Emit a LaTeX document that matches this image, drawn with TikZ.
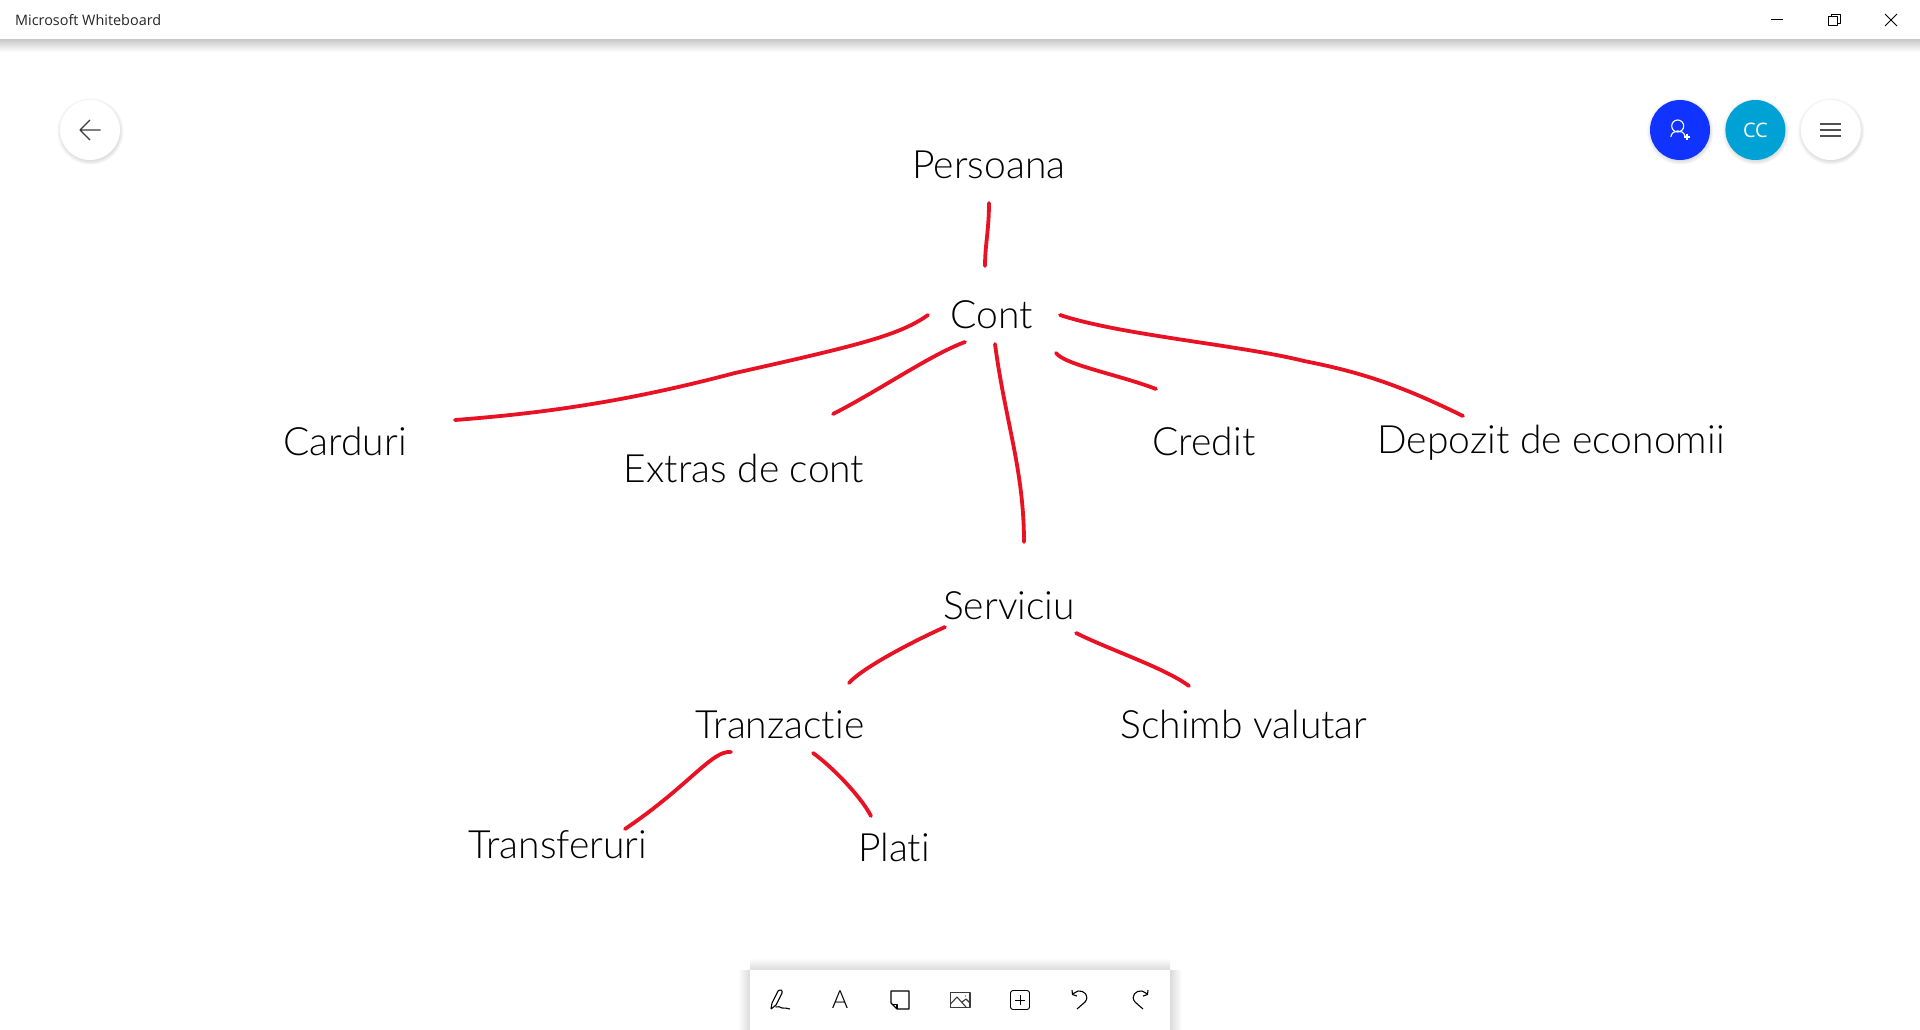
\documentclass[tikz,border=0pt]{standalone}
\usepackage{fontspec}
\setmainfont{Lato}[UprightFont=* Light, Ligatures=NoCommon]
\newfontfamily\uifont{Open Sans}
\usetikzlibrary{calc,positioning,shadows,fadings}
\definecolor{inkred}{RGB}{232,18,36}
\definecolor{btnblue}{RGB}{17,51,255}
\definecolor{btncyan}{RGB}{0,162,214}
\definecolor{icongray}{RGB}{60,60,60}
\tikzset{
	whiteboard/.style={x=1pt, y=-1pt, line join=round},
	hand/.style={font=\fontsize{39}{44}\selectfont, text=black, inner sep=0pt},
	wire/.style={draw=inkred, line width=3.8pt, line cap=round},
	btn/.style={circle, minimum size=60pt, inner sep=0pt, fill=#1,
		circular drop shadow={shadow scale=1.12, shadow xshift=0pt, shadow yshift=-1pt, opacity=.28}},
	btn/.default=white,
	icon/.style={draw=icongray, line width=1.1pt},
	winicon/.style={draw=black, line width=.9pt}
}
\begin{document}
\begin{tikzpicture}[whiteboard]
   \useasboundingbox (0,0) rectangle (1920,1030);
   \fill[white] (0,0) rectangle (1920,1030);
   % title bar
   \shade[top color=black!20, bottom color=white] (0,40) rectangle (1920,52);
   \node[font=\uifont\fontsize{14.4}{16}\selectfont, text=black!85, anchor=west, inner sep=0pt] (Title) at (15,20) {Microsoft Whiteboard};
   \draw[winicon] (1771,19) -- (1783,19);
   \draw[winicon] (1828.5,16.5) rectangle (1837.5,25.5);
   \draw[winicon] (1831,16.5) -- (1831,14.5) -- (1840,14.5) -- (1840,23) -- (1837.5,23);
   \draw[winicon] (1885,14) -- (1897,26) (1897,14) -- (1885,26);
   % round buttons
   \node[btn] (Back) at (90,130) {};
   \draw[icon, line width=1.3pt] (100.5,130) -- (80,130) (90,120) -- (80,130) -- (90,140);
   \node[btn=btnblue] (Share) at (1680,130) {};
   \node[btn=btncyan, right=15pt of Share, text=white, font=\uifont\fontsize{20}{20}\selectfont] (User) {CC};
   \node[btn, right=15pt of User] (Menu) {};
   \draw[white, line width=1.1pt] (1677.7,126) circle[radius=6];
   \draw[white, line width=1.1pt] (1670.8,137) .. controls (1672,129) and (1683,129) .. (1685,136);
   \draw[white, line width=1.3pt] (1684,137) -- (1690,137) (1687,134) -- (1687,140);
   \draw[icongray!90, line width=1.3pt] (1820,124) -- (1841,124) (1820,130) -- (1841,130) (1820,136) -- (1841,136);
   % labels
   \node[hand] (Persoana) at (989,165) {Persoana};
   \node[hand] (Cont) at (992,315) {Cont};
   \node[hand] (Carduri) at (345,441) {Carduri};
   \node[hand] (Extras) at (744,468) {Extras de cont};
   \node[hand] (Credit) at (1204,441) {Credit};
   \node[hand] (Depozit) at (1551,443) {Depozit de economii};
   \node[hand] (Serviciu) at (1009,606) {Serviciu};
   \node[hand] (Tranzactie) at (780,725) {Tranzactie};
   \node[hand] (Schimb) at (1244,724) {Schimb valutar};
   \node[hand] (Transferuri) at (558,845) {Transferuri};
   \node[hand] (Plati) at (894,847) {Plati};
   % ink strokes, their ends stop short of the labels
   \coordinate (Persoana_s) at ($(Persoana)+(0,38)$);
   \coordinate (Cont_n) at ($(Cont)+(-7,-49)$);
   \coordinate (Cont_w) at ($(Cont)+(-64,0)$);
   \coordinate (Cont_sw) at ($(Cont)+(-27,27)$);
   \coordinate (Cont_s) at ($(Cont)+(3,29)$);
   \coordinate (Cont_se) at ($(Cont)+(64,38)$);
   \coordinate (Cont_e) at ($(Cont)+(68,0)$);
   \coordinate (Carduri_e) at ($(Carduri)+(110,-21)$);
   \coordinate (Extras_n) at ($(Extras)+(89,-54)$);
   \coordinate (Credit_n) at ($(Credit)+(-48,-52)$);
   \coordinate (Depozit_n) at ($(Depozit)+(-88,-27)$);
   \coordinate (Serviciu_n) at ($(Serviciu)+(15,-64)$);
   \coordinate (Serviciu_sw) at ($(Serviciu)+(-64,21)$);
   \coordinate (Serviciu_se) at ($(Serviciu)+(67,27)$);
   \coordinate (Tranzactie_n) at ($(Tranzactie)+(69,-42)$);
   \coordinate (Tranzactie_sw) at ($(Tranzactie)+(-49,27)$);
   \coordinate (Tranzactie_se) at ($(Tranzactie)+(33,28)$);
   \coordinate (Schimb_n) at ($(Schimb)+(-55,-38)$);
   \coordinate (Transferuri_n) at ($(Transferuri)+(67,-16)$);
   \coordinate (Plati_n) at ($(Plati)+(-23,-31)$);
   \draw[wire] (Persoana_s) .. controls (989,230) and (985,245) .. (Cont_n);
   \draw[wire] (Cont_w) .. controls (900,335) and (860,345) .. (735,373) .. controls (640,398) and (560,412) .. (Carduri_e);
   \draw[wire] (Cont_sw) .. controls (930,355) and (880,390) .. (Extras_n);
   \draw[wire] (Cont_s) .. controls (1005,420) and (1024,470) .. (Serviciu_n);
   \draw[wire] (Cont_se) .. controls (1065,365) and (1120,375) .. (Credit_n);
   \draw[wire] (Cont_e) .. controls (1120,335) and (1240,345) .. (1304,361) .. controls (1360,372) and (1400,385) .. (Depozit_n);
   \draw[wire] (Serviciu_sw) .. controls (905,645) and (860,670) .. (Tranzactie_n);
   \draw[wire] (Serviciu_se) .. controls (1110,650) and (1165,668) .. (Schimb_n);
   \draw[wire] (Tranzactie_sw) .. controls (712,750) and (690,785) .. (Transferuri_n);
   \draw[wire] (Tranzactie_se) .. controls (830,765) and (860,795) .. (Plati_n);
   % toolbar
   \shade[left color=white, right color=black!14] (738,970) rectangle (750,1030);
   \shade[left color=black!14, right color=white] (1170,970) rectangle (1182,1030);
   \shade[top color=white, bottom color=black!14] (750,958) rectangle (1170,970);
   \fill[white] (750,970) rectangle (1170,1030);
   \draw[icon, black] (771,1009) -- (772,1003) -- (778,991) .. controls (780,989) and (783,990) .. (782,993) -- (776,1005) -- (771,1009);
   \draw[icon, black] (775.5,1007) .. controls (778,1005) and (780,1008) .. (782,1008) .. controls (785,1009) and (787,1007) .. (790,1009);
   \node[font=\fontsize{25}{25}\selectfont, inner sep=0pt] (Atext) at (840,1000) {A};
   \draw[icon, black] (891,991) -- (909,991) -- (909,1009) -- (897,1009) -- (891,1003) -- cycle;
   \draw[icon, black] (892.5,1004.5) -- (897,1004.5) -- (897,1009);
   \draw[icon, line width=1.3pt] (950.5,992.5) rectangle (970,1007.5);
   \draw[icon] (950.5,1004) -- (957,997) -- (966,1007) (962,1002) -- (966,999) -- (970,1003);
   \fill[icongray] (965.5,996) circle[radius=.7];
   \draw[icon, black, line width=.9pt, rounded corners=2.5pt] (1010.5,990.5) rectangle (1029.5,1009.5);
   \draw[icon, black, line width=.9pt] (1015,1000) -- (1025,1000) (1020,995) -- (1020,1005);
   \draw[icon, black] (1077,1009) -- (1085,1002) .. controls (1090,996) and (1084,990) .. (1078,991) -- (1072.5,994);
   \draw[icon, black] (1072,990) -- (1072.5,994.5) -- (1077,996);
   \draw[icon, black] (1143,1009) -- (1135,1002) .. controls (1130,996) and (1136,990) .. (1142,991) -- (1147.5,994);
   \draw[icon, black] (1148,990) -- (1147.5,994.5) -- (1143,996);
\end{tikzpicture}
\end{document}
